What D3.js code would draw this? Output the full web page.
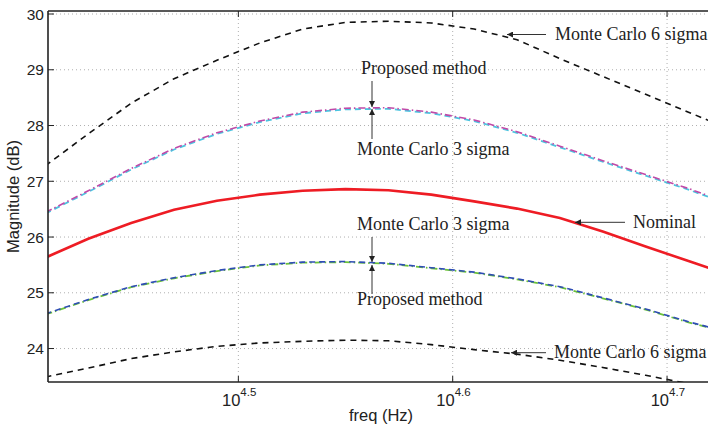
<!DOCTYPE html>
<html>
<head>
<meta charset="utf-8">
<script src="https://cdn.jsdelivr.net/npm/d3@7"></script>
<style>
  body { margin: 0; background: #fff; }
  svg { display: block; }
  .tick-label { font-family: "Liberation Sans", Arial, sans-serif; font-size: 15.5px; fill: #222; }
  .axis-title { font-family: "Liberation Sans", Arial, sans-serif; font-size: 16.5px; fill: #222; }
  .note { font-family: "Liberation Serif", "Times New Roman", serif; font-size: 18px; fill: #222; }
</style>
</head>
<body>
<svg id="chart" width="708" height="429"></svg>
<script>
// frequency samples (Hz)
var freq = [25704, 26915, 28184, 29512, 30903, 32359, 33884, 35481, 37154,
            38905, 40738, 42658, 44668, 46774, 48978, 51286, 52481];

// magnitudes (dB)
var nominal   = [25.63, 25.97, 26.25, 26.49, 26.65, 26.76, 26.83, 26.86, 26.84,
                 26.76, 26.64, 26.51, 26.34, 26.10, 25.83, 25.57, 25.44];
var mc6Upper  = [27.28, 27.85, 28.40, 28.84, 29.17, 29.48, 29.73, 29.85, 29.87,
                 29.84, 29.73, 29.54, 29.20, 28.88, 28.56, 28.24, 28.08];
var mc6Lower  = [23.49, 23.65, 23.82, 23.94, 24.04, 24.10, 24.13, 24.15, 24.14,
                 24.07, 23.98, 23.90, 23.79, 23.66, 23.52, 23.37, 23.28];
var mc3Upper  = [26.42, 26.81, 27.21, 27.57, 27.85, 28.06, 28.22, 28.29, 28.30,
                 28.22, 28.08, 27.87, 27.61, 27.35, 27.10, 26.85, 26.71];
var propUpper = [26.44, 26.83, 27.23, 27.59, 27.87, 28.08, 28.24, 28.31, 28.32,
                 28.24, 28.10, 27.89, 27.63, 27.37, 27.12, 26.87, 26.73];
var mc3Lower  = [24.62, 24.88, 25.11, 25.27, 25.40, 25.50, 25.55, 25.56, 25.53,
                 25.45, 25.37, 25.25, 25.11, 24.91, 24.71, 24.48, 24.38];
var propLower = [24.61, 24.87, 25.10, 25.26, 25.39, 25.49, 25.54, 25.55, 25.52,
                 25.44, 25.36, 25.24, 25.10, 24.90, 24.70, 24.47, 24.37];

// ticks
var yTicks = [24, 25, 26, 27, 28, 29, 30];
var xTickExp = ["4.5", "4.6", "4.7"];

(function() {
	var pLeft = 48, pRight = 711, pTop = 11, pBottom = 382;

	var svg = d3.select("#chart");

	var x = d3.scaleLog()
		.domain([Math.pow(10, 4.4112), Math.pow(10, 4.7205)])
		.range([pLeft, pRight]);
	var y = d3.scaleLinear()
		.domain([23.4, 30.054])
		.range([pBottom, pTop]);

	var defs = svg.append("defs");
	defs.append("clipPath").attr("id", "plotclip")
		.append("rect")
		.attr("x", pLeft).attr("y", pTop)
		.attr("width", pRight - pLeft).attr("height", pBottom - pTop);

	// grid
	var grid = svg.append("g").attr("stroke", "#9a9a9a").attr("stroke-width", 0.8)
		.attr("stroke-dasharray", "1,3");
	yTicks.forEach(function(t) {
		grid.append("line")
			.attr("x1", pLeft).attr("x2", pRight)
			.attr("y1", y(t)).attr("y2", y(t));
	});
	xTickExp.forEach(function(e) {
		var xv = x(Math.pow(10, +e));
		grid.append("line")
			.attr("x1", xv).attr("x2", xv)
			.attr("y1", pTop).attr("y2", pBottom);
	});

	// curves
	var line = d3.line()
		.x(function(d) { return x(d[0]); })
		.y(function(d) { return y(d[1]); });

	var series = [
		{ values: mc6Upper,  color: "#111",    width: 1.6, dash: "6,5" },
		{ values: mc6Lower,  color: "#111",    width: 1.6, dash: "6,5" },
		{ values: mc3Upper,  color: "#4cc4e0", width: 1.8, dash: "6,4" },
		{ values: propUpper, color: "#c04aa8", width: 1.6, dash: "7,3,1.5,3" },
		{ values: propLower, color: "#6cc23a", width: 1.8, dash: "7,3,1.5,3" },
		{ values: mc3Lower,  color: "#2f4db5", width: 1.6, dash: "6,4" },
		{ values: nominal,   color: "#ee1c24", width: 2.6, dash: null }
	];

	var curves = svg.append("g").attr("clip-path", "url(#plotclip)");
	series.forEach(function(s) {
		curves.append("path")
			.datum(freq.map(function(f, i) { return [f, s.values[i]]; }))
			.attr("fill", "none")
			.attr("stroke", s.color)
			.attr("stroke-width", s.width)
			.attr("stroke-dasharray", s.dash)
			.attr("d", line);
	});

	// axes box
	var ax = svg.append("g").attr("stroke", "#222").attr("stroke-width", 1.6);
	ax.append("line").attr("x1", pLeft).attr("x2", pRight + 5).attr("y1", pTop).attr("y2", pTop);
	ax.append("line").attr("x1", pLeft).attr("x2", pRight + 5).attr("y1", pBottom).attr("y2", pBottom);
	ax.append("line").attr("x1", pLeft).attr("x2", pLeft).attr("y1", pTop).attr("y2", pBottom);

	// y ticks
	yTicks.forEach(function(t) {
		ax.append("line").attr("stroke-width", 1)
			.attr("x1", pLeft).attr("x2", pLeft + 6)
			.attr("y1", y(t)).attr("y2", y(t));
		svg.append("text").attr("class", "tick-label")
			.attr("x", pLeft - 4).attr("y", y(t) + 5.5)
			.attr("text-anchor", "end")
			.text(t);
	});

	// x ticks
	xTickExp.forEach(function(e) {
		var xv = x(Math.pow(10, +e));
		ax.append("line").attr("stroke-width", 1)
			.attr("x1", xv).attr("x2", xv).attr("y1", pBottom).attr("y2", pBottom - 6);
		ax.append("line").attr("stroke-width", 1)
			.attr("x1", xv).attr("x2", xv).attr("y1", pTop).attr("y2", pTop + 6);
		svg.append("text").attr("class", "tick-label")
			.style("font-size", "16.5px")
			.attr("x", xv + 2).attr("y", 406)
			.attr("text-anchor", "end")
			.text("10");
		svg.append("text").attr("class", "tick-label")
			.style("font-size", "11.5px")
			.attr("x", xv + 2).attr("y", 396)
			.text(e);
	});

	// axis titles
	svg.append("text").attr("class", "axis-title")
		.attr("x", 381).attr("y", 421)
		.attr("text-anchor", "middle")
		.text("freq (Hz)");
	svg.append("text").attr("class", "axis-title")
		.attr("transform", "translate(19," + (pTop + pBottom) / 2 + ") rotate(-90)")
		.attr("text-anchor", "middle")
		.text("Magnitude (dB)");

	// annotations
	defs.append("marker")
		.attr("id", "arr")
		.attr("viewBox", "0 0 10 10")
		.attr("refX", 10).attr("refY", 5)
		.attr("markerWidth", 9).attr("markerHeight", 6)
		.attr("markerUnits", "userSpaceOnUse")
		.attr("orient", "auto")
		.append("path").attr("d", "M0,0 L10,5 L0,10 Z").attr("fill", "#222");

	var notes = [
		{ text: "Monte Carlo 6 sigma", tx: 555, ty: 40,  ax1: 546, ay1: 34.5, ax2: 507, ay2: 34.5 },
		{ text: "Proposed method",     tx: 361, ty: 74,  ax1: 372, ay1: 81,  ax2: 372, ay2: 107 },
		{ text: "Monte Carlo 3 sigma", tx: 357, ty: 155, ax1: 372, ay1: 139, ax2: 372, ay2: 109 },
		{ text: "Nominal",             tx: 633, ty: 228, ax1: 625, ay1: 222.3, ax2: 575, ay2: 222.3 },
		{ text: "Monte Carlo 3 sigma", tx: 357, ty: 230, ax1: 372, ay1: 237, ax2: 372, ay2: 262 },
		{ text: "Proposed method",     tx: 357, ty: 305, ax1: 372, ay1: 294, ax2: 372, ay2: 265 },
		{ text: "Monte Carlo 6 sigma", tx: 554, ty: 358, ax1: 546, ay1: 352.7, ax2: 511, ay2: 352.7 }
	];
	notes.forEach(function(n) {
		svg.append("line")
			.attr("x1", n.ax1).attr("y1", n.ay1).attr("x2", n.ax2).attr("y2", n.ay2)
			.attr("stroke", "#333").attr("stroke-width", 1)
			.attr("marker-end", "url(#arr)");
		svg.append("text").attr("class", "note")
			.attr("x", n.tx).attr("y", n.ty)
			.text(n.text);
	});
})();
</script>
</body>
</html>
